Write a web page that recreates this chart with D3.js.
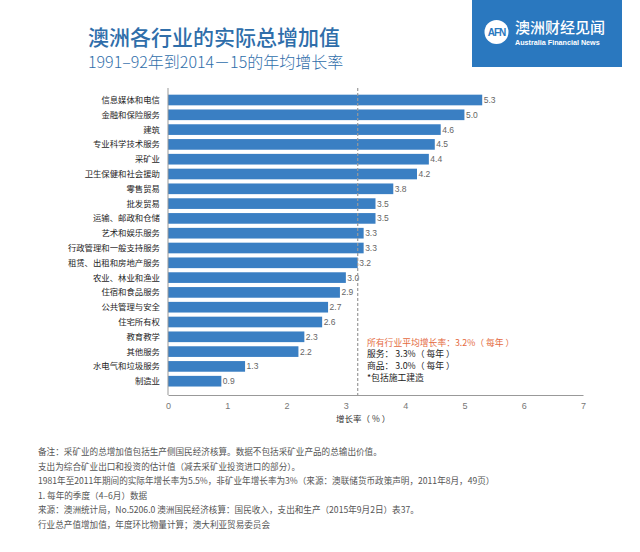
<!DOCTYPE html>
<html><head><meta charset="utf-8">
<script src="https://cdn.jsdelivr.net/npm/d3@7"></script>
<style>
body{margin:0;background:#fff;}
svg{display:block;font-family:"Liberation Sans","Noto Sans CJK SC",sans-serif;}
</style></head>
<body>
<svg id="c" width="640" height="552"></svg>
<script>
const categories = ["信息媒体和电信","金融和保险服务","建筑","专业科学技术服务","采矿业","卫生保健和社会援助","零售贸易","批发贸易","运输、邮政和仓储","艺术和娱乐服务","行政管理和一般支持服务","租赁、出租和房地产服务","农业、林业和渔业","住宿和食品服务","公共管理与安全","住宅所有权","教育教学","其他服务","水电气和垃圾服务","制造业"];
const growth = [5.3,5.0,4.6,4.5,4.4,4.2,3.8,3.5,3.5,3.3,3.3,3.2,3.0,2.9,2.7,2.6,2.3,2.2,1.3,0.9];
const xTicks = [0,1,2,3,4,5,6,7];
const averageAll = 3.2;
const notes = ["所有行业平均增长率：3.2%（ 每年 ）","服务： 3.3%（ 每年 ）","商品： 3.0%（ 每年 ）","*包括施工建造"];
const footnotes = ["备注：采矿业的总增加值包括生产侧国民经济核算。数据不包括采矿业产品的总输出价值。",
"支出为综合矿业出口和投资的估计值（减去采矿业投资进口的部分）。",
"1981年至2011年期间的实际年增长率为5.5%，非矿业年增长率为3%（来源：澳联储货币政策声明，2011年8月，49页）",
"1. 每年的季度（4–6月）数据",
"来源：澳洲统计局，No.5206.0 澳洲国民经济核算：国民收入，支出和生产（2015年9月2日）表37。",
"行业总产值增加值，年度环比物量计算；澳大利亚贸易委员会"];

const svg = d3.select("#c");
const cjk = '"Noto Sans CJK SC","Liberation Sans",sans-serif';

// Title
svg.append("text").attr("x",88).attr("y",45).attr("fill","#2f6eaa")
  .style("font-family",cjk).style("font-size","21px").style("font-weight","500")
  .text("澳洲各行业的实际总增加值");
svg.append("text").attr("x",88).attr("y",68).attr("fill","#2f6eaa")
  .style("font-family",cjk).style("font-size","16px").style("font-weight","300")
  .text("1991–92年到2014－15的年均增长率");

// Logo
const lg = svg.append("g");
lg.append("rect").attr("x",472).attr("y",0).attr("width",150).attr("height",67).attr("fill","#2a78bf");
lg.append("circle").attr("cx",496.5).attr("cy",32).attr("r",12).attr("fill","#fff");
lg.append("text").attr("x",496.5).attr("y",35.5).attr("text-anchor","middle").attr("fill","#2a78bf")
  .style("font-size","10px").style("font-weight","bold").style("letter-spacing","-1px").text("AFN");
lg.append("text").attr("x",515).attr("y",32.5).attr("fill","#fff")
  .style("font-family",cjk).style("font-size","15px").style("font-weight","500").text("澳洲财经见闻");
lg.append("text").attr("x",515).attr("y",45).attr("fill","#fff")
  .style("font-size","7.2px").style("font-weight","bold").text("Australia Financial News");

// Scales
const x = d3.scaleLinear().domain([0,7]).range([168,583]);
const y = d3.scaleBand().domain(categories).range([92.6,388.6]).paddingInner(0.28).paddingOuter(0.14);
const plotTop = 88, plotBase = 395;

// bars
svg.append("g").selectAll("rect").data(growth).join("rect")
  .attr("x",x(0)).attr("y",(d,i)=>y(categories[i]))
  .attr("width",d=>x(d)-x(0)).attr("height",y.bandwidth())
  .attr("fill","#3a7fc3");

// value labels
svg.append("g").selectAll("text").data(growth).join("text")
  .attr("x",d=>x(d)+1.5).attr("y",(d,i)=>y(categories[i])+y.bandwidth()/2+3)
  .attr("fill","#666").style("font-size","8.5px").text(d=>d3.format(".1f")(d));

// category labels
svg.append("g").selectAll("text").data(categories).join("text")
  .attr("x",160).attr("y",d=>y(d)+y.bandwidth()/2+3)
  .attr("text-anchor","end").attr("fill","#1e1e1e")
  .style("font-family",cjk).style("font-size","8.4px").text(d=>d);

// left line
svg.append("line").attr("x1",x(0)).attr("x2",x(0)).attr("y1",plotTop).attr("y2",plotBase)
  .attr("stroke","#999").attr("stroke-width",1);

// average dashed line
svg.append("line").attr("x1",x(averageAll)).attr("x2",x(averageAll)).attr("y1",plotTop).attr("y2",plotBase)
  .attr("stroke","#999").attr("stroke-width",1.2).attr("stroke-dasharray","3,2");

// x axis
const ax = svg.append("g").attr("transform",`translate(0,${plotBase})`)
  .call(d3.axisBottom(x).tickValues(xTicks).tickSize(0).tickPadding(8).tickFormat(d3.format("d")));
ax.select(".domain").attr("stroke","#999");
ax.selectAll("text").attr("fill","#777").style("font-size","9px").style("font-family",'"Liberation Sans",sans-serif');

svg.append("text").attr("x",336).attr("y",422).attr("fill","#333")
  .style("font-family",cjk).style("font-size","8.5px").text("增长率（ % ）");

// notes
svg.append("g").selectAll("text").data(notes).join("text")
  .attr("x",367).attr("y",(d,i)=>345.5+i*11.8)
  .attr("fill",(d,i)=>i===0?"#e46a3e":"#222")
  .style("font-family",cjk).style("font-size","8.8px").text(d=>d);

// footnotes
svg.append("g").selectAll("text").data(footnotes).join("text")
  .attr("x",38).attr("y",(d,i)=>455+i*14.6)
  .attr("fill","#555")
  .style("font-family",cjk).style("font-size","8.6px").text(d=>d);
</script>
</body></html>
